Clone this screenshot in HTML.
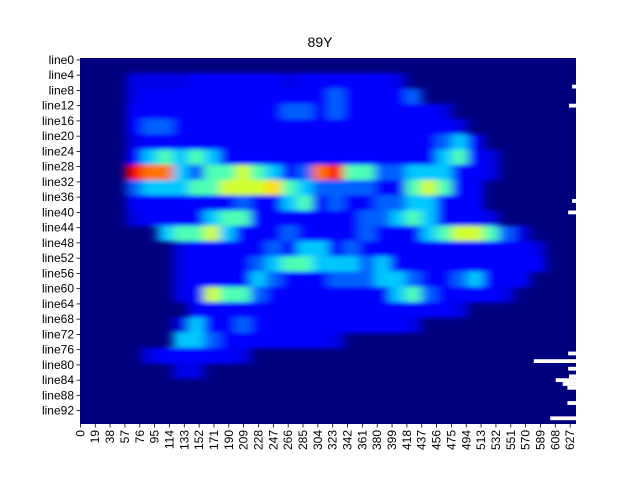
<!DOCTYPE html>
<html><head><meta charset="utf-8"><style>
body{margin:0;background:#fff}
svg text{font-family:"Liberation Sans",sans-serif;font-size:12px;fill:#000}
</style></head><body>
<svg id="chart" width="640" height="480" xmlns="http://www.w3.org/2000/svg">
<defs>
<clipPath id="pc"><rect x="80" y="58" width="496" height="366"/></clipPath>
<filter id="bl" x="-5%" y="-5%" width="110%" height="110%"><feGaussianBlur stdDeviation="5 2"/></filter>
</defs>
<text x="320" y="47" text-anchor="middle" style="font-size:14px">89Y</text>
<rect x="80" y="58" width="496" height="366" fill="#00007f"/>
<g id="cells" clip-path="url(#pc)"><g id="cellsInner" filter="url(#bl)"></g></g>
<g id="nan" clip-path="url(#pc)"></g>
<g id="yaxis"></g><g id="xaxis"></g>
</svg>
<script>
const gridRows = [
"00000000000000000000000000000000",
"00011112222221222222100000000000",
"00012222222222223222230000000000",
"00022222222223323222222100000000",
"00023322222222222222222210000000",
"00012222222222222222222342000000",
"00024545422222222222222452100000",
"00098843556542389553344422100000",
"00034445566675433332256522000000",
"00022222223224523223344222000000",
"00012222455222222233454222100000",
"00000455642223222232224566531000",
"00000012222232442322222222222100",
"00000012222345544434222222222200",
"00000012222432223334432234222000",
"00000012655322222222453222210000",
"00000002222222222222222210000000",
"00000014223222222222210000000000",
"00000044322222221000000000000000",
"00001222221000000000000000000000",
"00000011000000000000000000000000",
"00000000000000000000000000000000",
"00000000000000000000000000000000",
"00000000000000000000000000000000"
];
const levelValues = [0, 0.1, 0.13, 0.22, 0.32, 0.45, 0.58, 0.66, 0.76, 0.88];
const nanRows = [7, 12, 37, 40, 77, 79, 81, 83, 84, 85, 86, 90, 94];
const nanStart = [630, 626, 630, 625, 625, 581, 625, 626, 609, 618, 624, 624, 602];
const yTickLabels = ["line0","line4","line8","line12","line16","line20","line24","line28","line32","line36","line40","line44","line48","line52","line56","line60","line64","line68","line72","line76","line80","line84","line88","line92"];
const xTickLabels = [0,19,38,57,76,95,114,133,152,171,190,209,228,247,266,285,304,323,342,361,380,399,418,437,456,475,494,513,532,551,570,589,608,627];

const NS="http://www.w3.org/2000/svg";
const X0=80,Y0=58,W=496,H=366,NCOL=635,NLINE=96;
const xCol=c=>X0+c*W/NCOL;
const yLine=r=>Y0+r*H/NLINE;
function jet(v){
  const cl=t=>Math.max(0,Math.min(1,t));
  const r=cl(1.5-Math.abs(4*v-3)),g=cl(1.5-Math.abs(4*v-2)),b=cl(1.5-Math.abs(4*v-1));
  return `rgb(${Math.round(r*255)},${Math.round(g*255)},${Math.round(b*255)})`;
}
function mk(tag,attrs,parent){const e=document.createElementNS(NS,tag);for(const k in attrs)e.setAttribute(k,attrs[k]);parent.appendChild(e);return e;}
const ci=document.getElementById('cellsInner');
const gr=gridRows.length,gc=32;
gridRows.forEach((row,i)=>{
  for(let j=0;j<gc;j++){
    const v=levelValues[parseInt(row[j]||"0")];
    if(v===0)continue;
    const x=X0+j*W/gc,y=Y0+i*H/gr;
    const r=mk('rect',{x:x,y:y,width:W/gc+0.5,height:H/gr+0.5,fill:jet(v)},ci);
    
    
  }
});
const ng=document.getElementById('nan');
nanRows.forEach((rw,k)=>{
  const r=mk('rect',{x:xCol(nanStart[k]),y:yLine(rw),width:X0+W-xCol(nanStart[k]),height:H/NLINE,fill:'#fff'},ng);
  
  
});
const ya=document.getElementById('yaxis');
yTickLabels.forEach(l=>{
  const n=parseInt(l.slice(4));const y=yLine(n+0.5);
  mk('line',{x1:X0-3.5,x2:X0,y1:y,y2:y,stroke:'#000','stroke-width':0.8},ya);
  const t=mk('text',{x:X0-6,y:y+4,'text-anchor':'end'},ya);t.textContent=l;
  
  
});
const xa=document.getElementById('xaxis');
xTickLabels.forEach(c=>{
  const x=xCol(c+0.5);
  mk('line',{x1:x,x2:x,y1:Y0+H,y2:Y0+H+3.5,stroke:'#000','stroke-width':0.8},xa);
  const t=mk('text',{x:0,y:0,'text-anchor':'end',transform:`translate(${x+4},${Y0+H+6}) rotate(-90)`},xa);t.textContent=c;
  
  
});
</script>
</body></html>
